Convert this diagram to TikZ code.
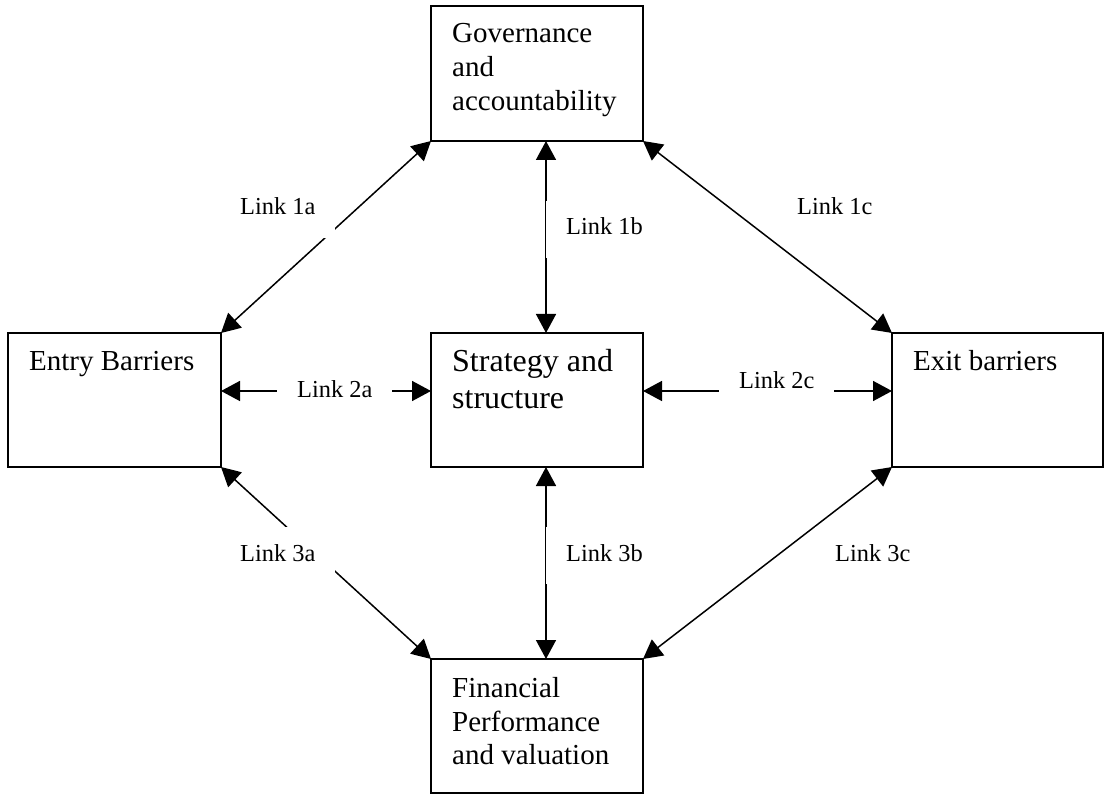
\documentclass[tikz,border=0pt]{standalone}
\usepackage{fontspec}
\setmainfont{Liberation Serif}
\usetikzlibrary{arrows.meta}
\begin{document}
\begin{tikzpicture}[x=1pt,y=-1pt,
  box/.style={draw, line width=2pt, outer sep=0pt, inner sep=0pt, anchor=north west},
  boxtext/.style={anchor=base west, inner sep=0pt, font=\fontsize{29}{34}\selectfont},
  bigtext/.style={anchor=base west, inner sep=0pt, font=\fontsize{32}{37}\selectfont},
  lbl/.style={anchor=base west, fill=white, inner xsep=20pt, inner ysep=17pt, text height=17pt, text depth=6pt, font=\fontsize{24.4}{28}\selectfont},
  link/.style={line width=1.5pt, {Triangle[length=19pt,width=20pt]}-{Triangle[length=19pt,width=20pt]}}]
\useasboundingbox (0,0) rectangle (1104,794);
% boxes
\node[box, minimum width=212pt, minimum height=135pt] (gov) at (431,6) {};
\node[box, minimum width=213pt, minimum height=134pt] (entry) at (8,333) {};
\node[box, minimum width=212pt, minimum height=134pt] (strat) at (431,333) {};
\node[box, minimum width=211pt, minimum height=134pt] (exit) at (892,333) {};
\node[box, minimum width=212pt, minimum height=134pt] (fin) at (431,659) {};
% box texts
\node[boxtext] (gov1) at (452,43) {Governance};
\node[boxtext] (gov2) at (452,77) {and};
\node[boxtext] (gov3) at (452,111) {accountability};
\node[boxtext] (entry1) at (29,371) {Entry Barriers};
\node[bigtext] (strat1) at (452,372) {Strategy and};
\node[bigtext] (strat2) at (452,409) {structure};
\node[boxtext] (exit1) at (913,371) {Exit barriers};
\node[boxtext] (fin1) at (452,697) {Financial};
\node[boxtext] (fin2) at (452,731) {Performance};
\node[boxtext] (fin3) at (452,764) {and valuation};
% connectors
\draw[link] (gov.south west) -- (entry.north east);
\draw[link] ([xshift=9pt]gov.south) -- ([xshift=9pt]strat.north);
\draw[link] (gov.south east) -- (exit.north west);
\draw[link] ([yshift=9pt]entry.east) -- ([yshift=9pt]strat.west);
\draw[link] ([yshift=9pt]strat.east) -- ([yshift=9pt]exit.west);
\draw[link] (entry.south east) -- (fin.north west);
\draw[link] ([xshift=9pt]strat.south) -- ([xshift=9pt]fin.north);
\draw[link] (exit.south west) -- (fin.north east);
% link labels
\node[lbl] (l1a) at (220,215) {Link 1a};
\node[lbl] (l1b) at (546,235) {Link 1b};
\node[lbl] (l1c) at (777,215) {Link 1c};
\node[lbl] (l2a) at (277,398) {Link 2a};
\node[lbl] (l2c) at (719,389) {Link 2c};
\node[lbl] (l3a) at (220,561) {Link 3a};
\node[lbl] (l3b) at (546,561) {Link 3b};
\node[lbl] (l3c) at (815,561) {Link 3c};
\end{tikzpicture}
\end{document}
